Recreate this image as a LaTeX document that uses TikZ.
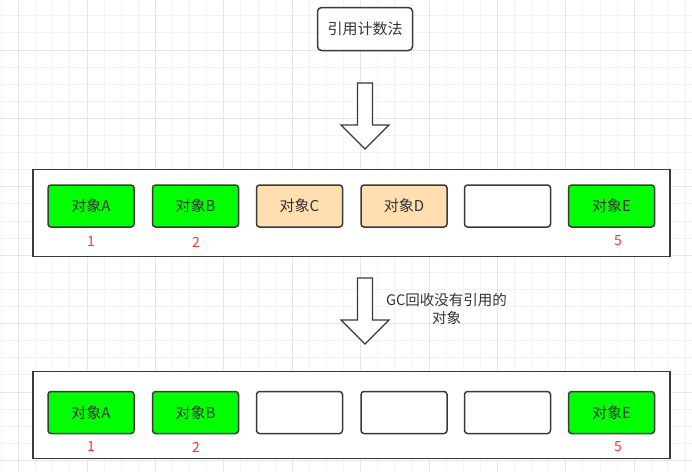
\documentclass[tikz,border=0pt]{standalone}
\usepackage{fontspec}
\newfontfamily\cjk{Noto Sans CJK SC}
\usepackage{tikz}
\usetikzlibrary{positioning}
\definecolor{linegray}{HTML}{3A3A3A}
\definecolor{textgray}{HTML}{333333}
\definecolor{objgreen}{HTML}{00FF00}
\definecolor{objtan}{HTML}{FFDFB0}
\definecolor{numred}{HTML}{FF3333}
\definecolor{gridminor}{HTML}{F3F3F3}
\definecolor{gridmajor}{HTML}{E6E6E6}
\tikzset{
  obj/.style={draw=linegray,line width=1.5pt,rounded corners=3pt,minimum width=86,minimum height=42,inner sep=0pt,font=\cjk\fontsize{15}{17}\selectfont,text=textgray},
  heap/.style={draw=linegray,line width=1.5pt,fill=white,minimum width=637,minimum height=87,inner sep=0pt},
  num/.style={font=\cjk\fontsize{14}{16}\selectfont,text=numred},
  bigarrow/.style={draw=linegray,line width=1.3pt,fill=white,line join=miter}
}
\begin{document}
\begin{tikzpicture}[x=1pt,y=-1pt,line cap=round]
\useasboundingbox (0,0) rectangle (692,471);
\fill[white] (0,0) rectangle (692,471);
% grid
\foreach \i in {0,...,40}
  \draw[gridminor,line width=1pt] ({1.5+17.1*\i},0) -- ({1.5+17.1*\i},471);
\foreach \j in {0,...,28}
  \draw[gridminor,line width=1pt] (0,{-1.3+17.1*\j}) -- (692,{-1.3+17.1*\j});
\foreach \i in {1,5,...,37}
  \draw[gridmajor,line width=1pt] ({1.5+17.1*\i},0) -- ({1.5+17.1*\i},471);
\foreach \j in {3,7,...,27}
  \draw[gridmajor,line width=1pt] (0,{-1.3+17.1*\j}) -- (692,{-1.3+17.1*\j});
% title
\node[draw=linegray,line width=1.5pt,rounded corners=4pt,fill=white,minimum width=95,minimum height=43,inner sep=0pt,font=\cjk\fontsize{15}{17}\selectfont,text=textgray] (title) at (365,29) {引用计数法};
% first arrow
\draw[bigarrow] (357.5,83) -- (372.5,83) -- (372.5,125) -- (389,125) -- (365,149) -- (341,125) -- (357.5,125) -- cycle;
% before gc
\node[heap] (before) at (351.5,213) {};
\node[obj,fill=objgreen] (a1) at (91,206) {对象A};
\node[obj,fill=objgreen] (b1) at (195.5,206) {对象B};
\node[obj,fill=objtan] (c1) at (299.5,206) {对象C};
\node[obj,fill=objtan] (d1) at (404,206) {对象D};
\node[obj,fill=white] (x1) at (507.5,206) {};
\node[obj,fill=objgreen] (e1) at (611.5,206) {对象E};
\node[num] (na1) at (91,242) {1};
\node[num] (nb1) at (196,242) {2};
\node[num] (ne1) at (618,241) {5};
% second arrow
\draw[bigarrow] (357.5,278) -- (372.5,278) -- (372.5,320) -- (389,320) -- (365,344) -- (341,320) -- (357.5,320) -- cycle;
\node[font=\cjk\fontsize{14.5}{18}\selectfont,text=textgray,align=center] (gc) at (446.5,309) {GC回收没有引用的\\对象};
% after gc
\node[heap] (after) at (351.5,415) {};
\node[obj,fill=objgreen] (a2) at (91,412.5) {对象A};
\node[obj,fill=objgreen] (b2) at (195.5,412.5) {对象B};
\node[obj,fill=white] (c2) at (299.5,412.5) {};
\node[obj,fill=white] (d2) at (404,412.5) {};
\node[obj,fill=white] (x2) at (507.5,412.5) {};
\node[obj,fill=objgreen] (e2) at (611.5,412.5) {对象E};
\node[num] (na2) at (91,447) {1};
\node[num] (nb2) at (196,447) {2};
\node[num] (ne2) at (618,447) {5};
\end{tikzpicture}
\end{document}
